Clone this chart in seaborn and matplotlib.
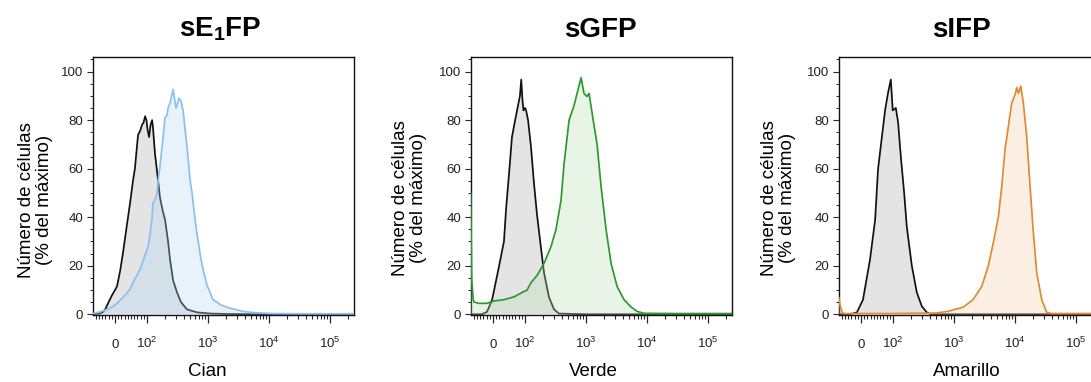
import numpy as np
import pandas as pd
import matplotlib
matplotlib.use("Agg")
import matplotlib.pyplot as plt
from matplotlib.ticker import FixedLocator, MultipleLocator, NullFormatter
import seaborn as sns

sns.set_style("ticks")
plt.rcParams['font.family'] = ['Liberation Sans', 'DejaVu Sans']
plt.rcParams['mathtext.fontset'] = 'custom'
plt.rcParams['mathtext.rm'] = 'Liberation Sans'
plt.rcParams['mathtext.bf'] = 'Liberation Sans:bold'
plt.rcParams['mathtext.it'] = 'Liberation Sans:italic'
plt.rcParams['mathtext.default'] = 'regular'
plt.rcParams['text.color'] = 'black'
plt.rcParams['axes.labelcolor'] = 'black'

# ---------------- data (fluorescence intensity, % of max) ----------------
titles = [r"$\mathbf{sE_1FP}$", "sGFP", "sIFP"]
xlabels = ["Cian", "Verde", "Amarillo"]
ylabel = "Número de células\n(% del máximo)"
xtick_values = [0, 100, 1000, 10000, 100000]
xtick_labels = ["$0$", "$10^2$", "$10^3$", "$10^4$", "$10^5$"]
ytick_values = [0, 20, 40, 60, 80, 100]

# Panel 1: control (black) and sE1FP (cyan)
ctrl1_x = [-69, -47, -37, -31, -22, -9, 0, 6, 16, 25, 34, 47, 56, 62, 69, 72, 78, 84, 89, 94,
           98, 102, 108, 114, 121, 125, 135, 152, 163, 183, 197, 221, 238, 267, 310, 360, 452,
           660, 1080, 2300, 7100, 247000]
ctrl1_y = [0, 0.3, 1, 2, 4.5, 8, 10, 11.5, 18, 25.5, 34, 46, 55, 60, 70, 74, 75.4, 78, 79, 81.6,
           80, 76, 73, 78, 80, 77, 66, 55, 48, 42, 39, 30, 22.6, 14, 9, 5, 2,
           0.8, 0.3, 0.1, 0, 0]
samp1_x = [-69, -47, -25, -9, 6, 25, 47, 56, 78, 87.5, 104, 112, 121, 125, 135, 146, 152, 163,
           183, 197, 213, 221, 238, 267, 299, 335, 360, 389, 452, 506, 546, 613, 660, 739, 828,
           962, 1079, 1207, 1403, 1575, 1900, 2297, 2770, 3750, 5440, 11600, 32000, 247000]
samp1_y = [0.3, 1, 2, 3, 4.5, 7, 10.3, 13, 18.5, 22, 28, 33, 40, 46, 47, 50, 55, 61,
           73, 81, 82, 85, 87, 92.6, 85, 89, 88, 84, 69, 55.6, 50, 39, 33, 25, 18.5,
           12, 9, 6, 5, 4, 3.2, 2.5, 2, 1.2, 0.7, 0.3, 0.2, 0.2]

# Panel 2: control (black) and sGFP (green)
ctrl2_x = [-70, -35, -19, -3, 19, 34, 41, 50, 59, 69, 78, 84, 88, 92, 95, 100, 104, 112, 125,
           140, 157, 183, 205, 247, 299, 360, 1000, 247000]
ctrl2_y = [0, 0, 1, 6, 20, 30, 44, 58, 73, 80, 86, 90, 96.7, 88, 84, 85, 84, 80, 69,
           54, 41, 27, 17, 7, 2, 0.3, 0, 0]
samp2_x = [-70, -67, -62, -59, -44, -19, 3, 34, 66, 91, 108, 125, 157, 205, 267, 322, 389, 436,
           527, 636, 712, 829, 925, 1037, 1120, 1254, 1515, 1762, 2128, 2570, 3222, 4198, 5467,
           6858, 8930, 30000, 247000]
samp2_y = [50, 15, 6, 5, 4.5, 4.5, 5.5, 6, 7.2, 9, 10, 13, 16, 21, 28, 35, 47, 62,
           80, 86, 91, 97.5, 91, 89.7, 91, 83, 70, 52.7, 35, 21, 11.5, 6, 3,
           1.2, 0.4, 0.3, 0.3]

# Panel 3: control (black) and sIFP (orange)
ctrl3_x = [-70, -34, -13, 6, 28, 44, 53, 65, 75, 84, 93, 99, 111, 121, 134, 152, 168, 203, 245,
           296, 357, 420, 247000]
ctrl3_y = [0, 0, 0.8, 6, 22.6, 39, 59.7, 73, 84, 91, 96.7, 84, 85, 79, 65, 50, 36, 20, 9,
           3.3, 0.8, 0, 0]
samp3_x = [-70, -66, -60, -55, 0, 100, 500, 800, 963, 1405, 2048, 2845, 3650, 4409, 5325, 6054,
           6858, 7766, 8830, 10000, 10660, 11330, 12400, 13680, 15560, 17620, 19950, 22690,
           27400, 33100, 40000, 247000]
samp3_y = [7, 4, 1, 0.3, 0.3, 0.3, 0.5, 1.2, 1.8, 2.9, 6, 11.5, 20, 29.6, 40, 52.7,
           68, 77.4, 87, 90.5, 93.4, 91, 94, 87, 73, 52.7, 33.7, 17,
           6, 0.8, 0.3, 0.3]

panels = [
    (ctrl1_x, ctrl1_y, samp1_x, samp1_y, "#8cc0ef", "#b5d8f5"),
    (ctrl2_x, ctrl2_y, samp2_x, samp2_y, "#2f982f", "#b8dfb4"),
    (ctrl3_x, ctrl3_y, samp3_x, samp3_y, "#e08a33", "#f5cfa8"),
]

# ---------------- layout ----------------
W, H = 1091, 382
fig = plt.figure(figsize=(W / 100, H / 100), dpi=100)
lefts = [93, 471, 839]
title_x = [0.487, 0.494, 0.471]
xlabel_x = [0.437, 0.467, 0.49]
ylabel_pos = [(-0.153, 0.446), (-0.169, 0.453), (-0.165, 0.453)]

minor_x = ([-60, -50, -40, -30, -20, -10, 10, 20, 30, 40, 50, 60, 70, 80, 90]
           + [m * 10 ** k for k in (2, 3, 4) for m in range(2, 10)] + [200000])

for i, (cx, cy, sx, sy, lc, fc) in enumerate(panels):
    ax = fig.add_axes([lefts[i] / W, (H - 315) / H, 261 / W, 258 / H])
    ax.set_xscale('symlog', linthresh=100, linscale=0.472)
    ax.set_xlim(-69, 247000)
    ax.set_ylim(-0.3, 106)

    cdf = pd.DataFrame({"x": cx, "y": cy})
    sdf = pd.DataFrame({"x": sx, "y": sy})

    ax.fill_between(cdf["x"], cdf["y"], 0, color="#bdbdbd", alpha=0.4, lw=0, zorder=1)
    sns.lineplot(data=cdf, x="x", y="y", ax=ax, color="#111111", lw=1.25, zorder=2,
                 sort=False, estimator=None)
    ax.fill_between(sdf["x"], sdf["y"], 0, color=fc, alpha=0.32, lw=0, zorder=3)
    sns.lineplot(data=sdf, x="x", y="y", ax=ax, color=lc, lw=1.25, zorder=4,
                 sort=False, estimator=None)

    # ticks
    ax.set_xticks(xtick_values)
    ax.set_xticklabels(xtick_labels)
    ax.xaxis.set_minor_locator(FixedLocator(minor_x))
    ax.xaxis.set_minor_formatter(NullFormatter())
    ax.set_yticks(ytick_values)
    ax.yaxis.set_minor_locator(MultipleLocator(5))
    ax.tick_params(axis='x', which='major', length=6, width=0.9, pad=18,
                   labelsize=9.5, labelcolor="#222222", direction='out')
    ax.tick_params(axis='x', which='minor', length=3, width=0.8, direction='out')
    ax.tick_params(axis='y', which='major', length=4, width=0.8, pad=3,
                   labelsize=9.5, labelcolor="#222222", direction='out')
    ax.tick_params(axis='y', which='minor', length=2.2, width=0.7, direction='out')
    for lab in ax.get_xticklabels():
        lab.set_verticalalignment('baseline')

    for sp in ax.spines.values():
        sp.set_visible(True)
        sp.set_linewidth(1.0)
        sp.set_color("#111111")

    ax.set_xlabel(xlabels[i], fontsize=13.5)
    ax.xaxis.set_label_coords(xlabel_x[i], -0.185)
    ax.set_ylabel(ylabel, fontsize=13.5, linespacing=1.05)
    ax.yaxis.set_label_coords(*ylabel_pos[i])

    ax.text(title_x[i], 1.078, titles[i], transform=ax.transAxes, ha='center',
            va='baseline', fontsize=20, fontweight='bold', color='black')

fig.savefig("out.png", dpi=100)
